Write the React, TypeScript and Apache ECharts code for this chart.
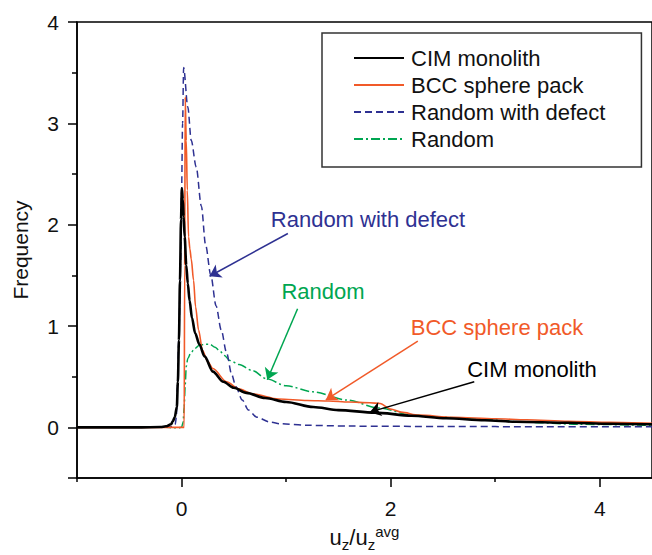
import React, { useEffect, useRef } from "react";
import * as echarts from "echarts";

// ---- data ----
const cimX = [-1, -0.4, -0.2, -0.15, -0.1, -0.083, -0.065, -0.045, -0.035, -0.025, -0.015, -0.005, 0.003, 0.012, 0.02, 0.03, 0.045, 0.06, 0.077, 0.1, 0.13, 0.17, 0.22, 0.3, 0.4, 0.5, 0.62, 0.8, 1.0, 1.26, 1.5, 1.85, 2.2, 2.53, 2.9, 3.2, 3.7, 4.1, 4.5];
const cimY = [0, 0, 0.003, 0.01, 0.03, 0.06, 0.1, 0.2, 0.45, 0.86, 1.45, 2.05, 2.36, 2.25, 2.08, 1.88, 1.6, 1.42, 1.25, 1.08, 0.93, 0.82, 0.7, 0.55, 0.45, 0.39, 0.34, 0.29, 0.25, 0.2, 0.17, 0.145, 0.115, 0.09, 0.07, 0.055, 0.045, 0.035, 0.03];

const bccX = [-1, 0.025, 0.03, 0.035, 0.045, 0.055, 0.067, 0.08, 0.093, 0.115, 0.134, 0.163, 0.2, 0.25, 0.3, 0.43, 0.55, 0.68, 0.93, 1.2, 1.41, 1.6, 1.8, 1.9, 2.0, 2.1, 2.27, 2.6, 3.0, 3.3, 3.7, 4.1, 4.5];
const bccY = [0, 0, 1.6, 3.26, 2.83, 2.34, 1.88, 1.76, 1.66, 1.45, 1.19, 0.96, 0.76, 0.65, 0.58, 0.45, 0.38, 0.33, 0.28, 0.265, 0.26, 0.25, 0.243, 0.235, 0.18, 0.15, 0.12, 0.1, 0.085, 0.075, 0.06, 0.05, 0.04];

const rwdX = [-1, -0.2, -0.08, -0.06, -0.05, -0.04, -0.025, -0.01, 0.0, 0.01, 0.02, 0.06, 0.093, 0.14, 0.19, 0.23, 0.28, 0.33, 0.38, 0.43, 0.48, 0.52, 0.58, 0.64, 0.72, 0.85, 0.95, 1.2, 1.6, 2.5, 3.5, 4.5];
const rwdY = [0, 0, 0.005, 0.03, 0.1, 0.4, 0.9, 1.6, 2.3, 3.0, 3.55, 3.16, 2.83, 2.57, 2.18, 1.8, 1.5, 1.2, 0.96, 0.74, 0.52, 0.4, 0.27, 0.17, 0.1, 0.05, 0.035, 0.02, 0.012, 0.008, 0.006, 0.005];

const rndX = [-1, -0.15, -0.08, -0.03, 0.0, 0.015, 0.025, 0.035, 0.045, 0.06, 0.09, 0.13, 0.17, 0.22, 0.27, 0.32, 0.36, 0.41, 0.46, 0.55, 0.68, 0.81, 1.0, 1.26, 1.58, 1.89, 2.21, 2.5, 2.85, 3.3, 3.8, 4.5];
const rndY = [0, 0, -0.005, -0.005, 0.0, 0.05, 0.2, 0.42, 0.6, 0.68, 0.74, 0.78, 0.81, 0.82, 0.82, 0.79, 0.76, 0.71, 0.66, 0.62, 0.56, 0.48, 0.41, 0.35, 0.27, 0.19, 0.12, 0.1, 0.08, 0.05, 0.03, 0.02];

const seriesNames = ["CIM monolith", "BCC sphere pack", "Random with defect", "Random"];
const seriesColors = ["#000000", "#f15a29", "#2e3192", "#00a651"];

const xTickMajor = [0, 2, 4];
const xTickMinor = [-1, 1, 3];
const yTickMajor = [-0.5, 0, 1, 2, 3, 4];
const yTickMinor = [0.5, 1.5, 2.5, 3.5];
const yLabelValues = [0, 1, 2, 3, 4];

// annotation arrows (data coords): from -> to
const arrows = [
  { from: [1.017, 1.913], to: [0.268, 1.491], color: "#2e3192" },
  { from: [1.11, 1.17], to: [0.82, 0.47], color: "#00a651" },
  { from: [2.26, 0.85], to: [1.38, 0.27], color: "#f15a29" },
  { from: [2.8, 0.45], to: [1.8, 0.15], color: "#000000" },
];
// annotation labels (pixel centres)
const notes = [
  { text: "Random with defect", x: 368, y: 219, color: "#2e3192" },
  { text: "Random", x: 323, y: 291, color: "#00a651" },
  { text: "BCC sphere pack", x: 497, y: 327, color: "#f15a29" },
  { text: "CIM monolith", x: 532, y: 369, color: "#000000" },
];

const FONT = '"Liberation Sans", Arial, Helvetica, sans-serif';

const zip = (xs: number[], ys: number[]) => xs.map((x, i) => [x, ys[i]]);

export default function App() {
  const ref = useRef<HTMLDivElement>(null);
  useEffect(() => {
    if (!ref.current) return;
    const chart = echarts.init(ref.current, undefined, { renderer: "svg" });
    const lineTypes: any[] = ["solid", "solid", [7, 4], [9, 3, 2, 3]];
    const widths = [2.6, 1.6, 1.5, 1.5];
    const datas = [zip(cimX, cimY), zip(bccX, bccY), zip(rwdX, rwdY), zip(rndX, rndY)];
    const drawOrder = [3, 2, 1, 0];
    const series: any[] = drawOrder.map((i) => ({
      name: seriesNames[i],
      type: "line",
      data: datas[i],
      showSymbol: false,
      symbol: "none",
      smooth: 0.3,
      smoothMonotone: "x",
      z: 2 + (3 - i),
      lineStyle: { color: seriesColors[i], width: widths[i], type: lineTypes[i] },
      itemStyle: { color: seriesColors[i] },
    }));
    series.push({
      type: "line",
      data: [],
      silent: true,
      markLine: {
        silent: true,
        symbol: ["none", "arrow"],
        symbolSize: 11,
        label: { show: false },
        data: arrows.map((a) => [
          { coord: a.from, lineStyle: { color: a.color, width: 1.5, type: "solid" } },
          { coord: a.to },
        ]),
      },
    });

    chart.setOption({
      animation: false,
      textStyle: { fontFamily: FONT },
      grid: {
        left: 77,
        top: 22,
        width: 575,
        height: 456,
        outerBoundsMode: "none",
        containLabel: false,
        show: true,
        borderColor: "#000",
        borderWidth: 1.5,
        backgroundColor: "transparent",
      },
      legend: {
        orient: "vertical",
        left: 322,
        top: 33,
        data: seriesNames,
        itemWidth: 50,
        itemHeight: 14,
        itemGap: 5,
        padding: [14, 36, 17, 31],
        borderColor: "#333",
        borderWidth: 1.5,
        backgroundColor: "#fff",
        itemStyle: { opacity: 0 },
        textStyle: { fontSize: 22, color: "#111", fontFamily: FONT, lineHeight: 22, padding: [0, 0, 0, 2] },
      },
      xAxis: [
        {
          type: "value",
          min: -1,
          max: 4.5,
          position: "bottom",
          axisLine: { show: true, onZero: false, lineStyle: { color: "#000", width: 1.5 } },
          axisTick: { show: true, customValues: xTickMajor, length: 9, lineStyle: { color: "#000", width: 1.5 } },
          axisLabel: { show: true, customValues: xTickMajor, fontSize: 21, color: "#111", margin: 20, fontFamily: FONT },
          splitLine: { show: false },
          name: "{n|u}{s|z}{n|/u}{s|z}{p|avg}",
          nameLocation: "middle",
          nameGap: 41,
          nameTextStyle: {
            color: "#111",
            fontFamily: FONT,
            rich: {
              n: { fontSize: 22, lineHeight: 28, fontFamily: FONT, color: "#111" },
              s: { fontSize: 15, lineHeight: 28, verticalAlign: "bottom", fontFamily: FONT, color: "#111" },
              p: { fontSize: 15, lineHeight: 28, verticalAlign: "top", fontFamily: FONT, color: "#111" },
            },
          },
        },
        {
          type: "value",
          min: -1,
          max: 4.5,
          position: "bottom",
          axisLine: { show: false, onZero: false },
          axisTick: { show: true, customValues: xTickMinor, length: 4, lineStyle: { color: "#000", width: 1.5 } },
          axisLabel: { show: false },
          splitLine: { show: false },
        },
      ],
      yAxis: [
        {
          type: "value",
          min: -0.5,
          max: 4,
          position: "left",
          axisLine: { show: true, onZero: false, lineStyle: { color: "#000", width: 1.5 } },
          axisTick: { show: true, customValues: yTickMajor, length: 9, lineStyle: { color: "#000", width: 1.5 } },
          axisLabel: { show: true, customValues: yLabelValues, fontSize: 21, color: "#111", margin: 18, fontFamily: FONT },
          splitLine: { show: false },
          name: "Frequency",
          nameLocation: "middle",
          nameGap: 46,
          nameTextStyle: { fontSize: 21, color: "#111", fontFamily: FONT },
        },
        {
          type: "value",
          min: -0.5,
          max: 4,
          position: "left",
          axisLine: { show: false, onZero: false },
          axisTick: { show: true, customValues: yTickMinor, length: 5, lineStyle: { color: "#000", width: 1.5 } },
          axisLabel: { show: false },
          splitLine: { show: false },
        },
      ],
      graphic: notes.map((n) => ({
        type: "text",
        x: n.x,
        y: n.y,
        silent: true,
        style: {
          text: n.text,
          fill: n.color,
          fontSize: 22,
          fontFamily: FONT,
          textAlign: "center",
          textVerticalAlign: "middle",
          align: "center",
          verticalAlign: "middle",
        },
      })),
      series,
    });
    return () => chart.dispose();
  }, []);
  return (
    <div
      ref={ref}
      style={{ position: "fixed", left: 0, top: 0, width: 652, height: 555, background: "#fff" }}
    />
  );
}
